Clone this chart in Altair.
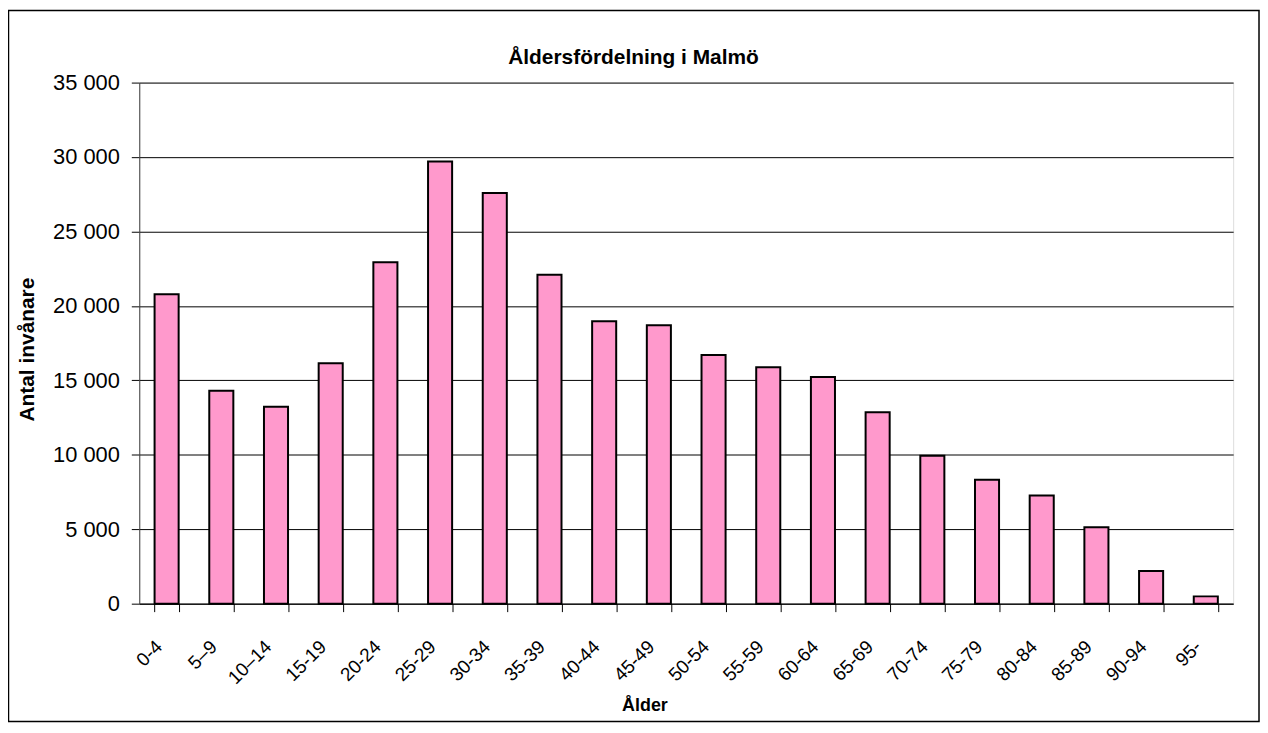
import altair as alt
import pandas as pd

categories = ["0-4", "5–9", "10–14", "15-19", "20-24", "25-29", "30-34", "35-39", "40-44",
              "45-49", "50-54", "55-59", "60-64", "65-69", "70-74", "75-79", "80-84",
              "85-89", "90-94", "95-"]
values = [20780, 14300, 13230, 16150, 22930, 29700, 27580, 22100, 18970, 18700,
          16700, 15880, 15230, 12850, 9930, 8330, 7260, 5140, 2200, 490]
y_ticks = [0, 5000, 10000, 15000, 20000, 25000, 30000, 35000]
title_text = ["Åldersfördelning i Malmö"]

df = pd.DataFrame({"Ålder": categories, "Antal": values})

font = "Liberation Sans, Arial, sans-serif"

bars = alt.Chart(df).mark_bar(
    color="#FF99CC", stroke="#000000", strokeWidth=2
).encode(
    x=alt.X("Ålder:N", sort=categories,
            scale=alt.Scale(paddingInner=0.56, paddingOuter=0.28),
            axis=alt.Axis(title="Ålder", labelAngle=-45, labelAlign="right",
                          labelBaseline="middle", labelFont=font, labelFontSize=19,
                          labelColor="#000", labelPadding=32, labelOffset=-8,
                          tickBand="extent",
                          tickSize=8, tickColor="#000", domainColor="#000",
                          titleFont=font, titleFontSize=18, titleFontWeight="bold",
                          titleColor="#000", titleX=508, titleY=107,
                          titleAlign="center", titleBaseline="alphabetic")),
    y=alt.Y("Antal:Q", scale=alt.Scale(domain=[0, 35000], nice=False),
            axis=alt.Axis(title="Antal invånare", values=y_ticks,
                          labelExpr="replace(format(datum.value, ','), ',', ' ')",
                          labelFont=font, labelFontSize=22, labelColor="#000",
                          labelPadding=12, tickSize=8, tickColor="#000",
                          domainColor="#404040", grid=True, gridColor="#000",
                          gridWidth=1,
                          titleFont=font, titleFontSize=21, titleFontWeight="bold",
                          titleColor="#000", titleAngle=-90, titleX=-112,
                          titleY=268, titleAlign="center", titleBaseline="middle")),
)

title = alt.Chart(pd.DataFrame({"t": title_text})).mark_text(
    font=font, fontSize=21, fontWeight="bold", color="#000",
    align="center", baseline="alphabetic"
).encode(
    text="t:N", x=alt.value(497), y=alt.value(-19)
)

frame = alt.Chart(pd.DataFrame({"f": [0]})).mark_rect(
    fill=None, stroke="#000", strokeWidth=1.5
).encode(
    x=alt.value(-131.5), x2=alt.value(1126),
    y=alt.value(-72.5), y2=alt.value(642.5)
)

chart = alt.layer(bars, title, frame).properties(
    width=1100, height=524,
    autosize=alt.AutoSizeParams(type="none"),
    padding={"left": 132, "top": 73, "right": 27, "bottom": 119},
).configure_view(
    fill="#C0C0C0", stroke="#808080", strokeWidth=1.5
).configure(background="white")

chart.save("out.html", embed_options={"renderer": "svg", "actions": False})
